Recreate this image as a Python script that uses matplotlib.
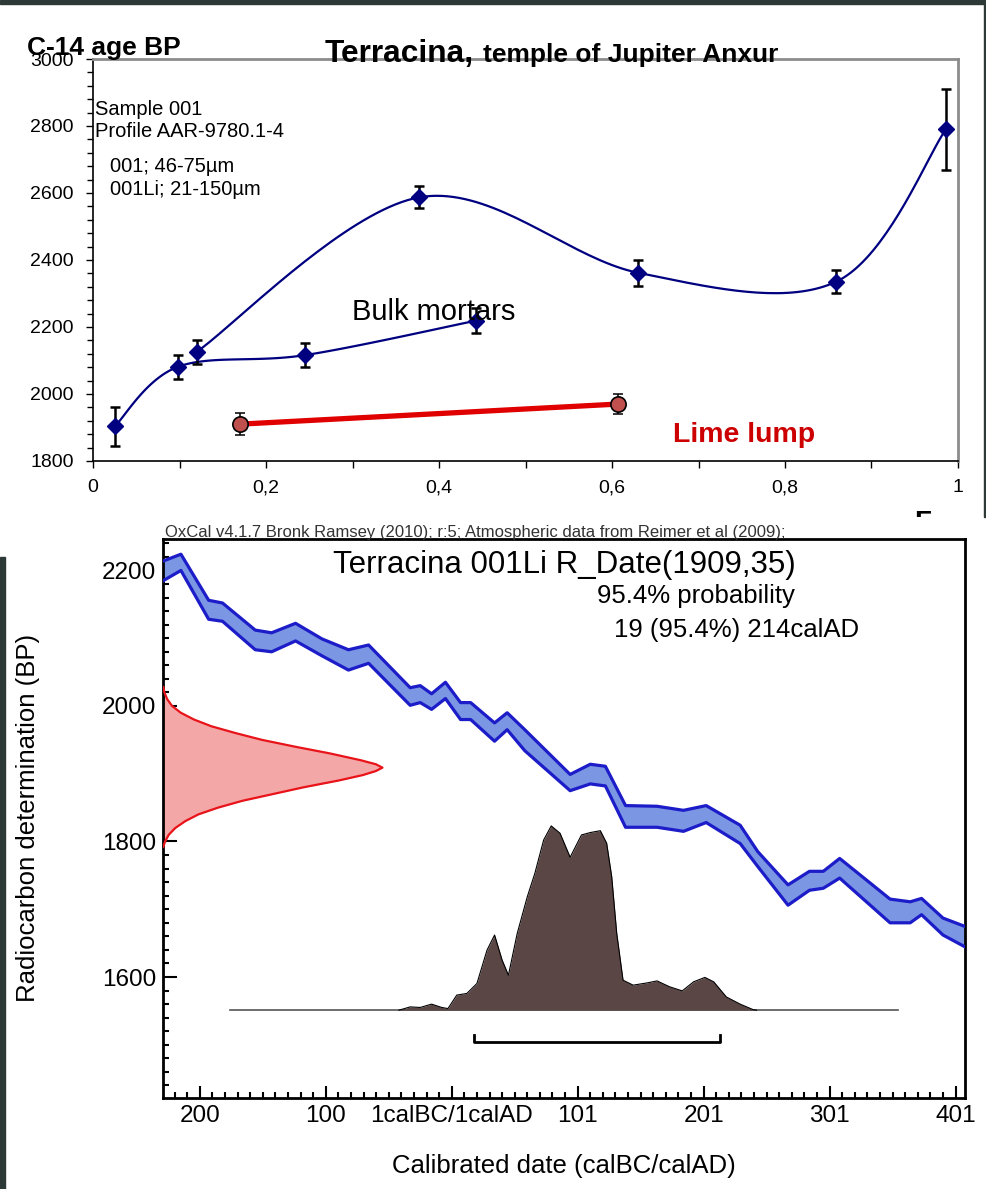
import numpy as np
import matplotlib.pyplot as plt
from matplotlib.patches import Rectangle
from matplotlib.ticker import MultipleLocator

plt.rcParams['font.family'] = ['Liberation Sans', 'DejaVu Sans']

# ---- top chart: C-14 age of mortar fractions vs F ----
low_f = [0.025, 0.098, 0.245, 0.443]
low_age = [1903, 2081, 2116, 2219]
low_err = [58, 35, 35, 37]

high_f = [0.120, 0.377, 0.630, 0.859, 0.986]
high_age = [2126, 2587, 2362, 2335, 2790]
high_err = [35, 33, 39, 34, 120]

lime_f = [0.170, 0.607]
lime_age = [1910, 1970]
lime_err = [33, 29]

f_ticks = [0, 0.2, 0.4, 0.6, 0.8, 1.0]
f_labels = ['0', '0,2', '0,4', '0,6', '0,8', '1']
age_ticks = [1800, 2000, 2200, 2400, 2600, 2800, 3000]

# ---- bottom chart: OxCal calibration ----
# x = calendar year, 0 = 1calBC/1calAD boundary
cal_x = [-229, -215, -193, -182, -156, -143, -124, -103, -82, -66, -33, -25, -16, -5,
         7, 15, 34, 44, 58, 94, 110, 122, 138, 163, 184, 202, 229, 243, 267, 284,
         295, 308, 348, 364, 373, 390, 407]
cal_hi = [2214, 2224, 2156, 2152, 2112, 2108, 2122, 2099, 2083, 2090, 2027, 2030, 2018, 2035,
          2005, 2005, 1975, 1990, 1965, 1899, 1914, 1911, 1853, 1852, 1846, 1853, 1824, 1785,
          1736, 1756, 1756, 1775, 1715, 1711, 1716, 1687, 1675]
cal_lo = [2185, 2200, 2128, 2125, 2083, 2080, 2096, 2074, 2053, 2063, 2001, 2005, 1995, 2011,
          1980, 1980, 1948, 1965, 1934, 1875, 1885, 1882, 1821, 1821, 1815, 1828, 1797, 1763,
          1706, 1728, 1731, 1746, 1680, 1680, 1692, 1662, 1645]

r_bp = [2028, 2020, 2010, 2000, 1990, 1980, 1970, 1960, 1950, 1940, 1930, 1920, 1914,
        1909, 1904, 1898, 1890, 1880, 1870, 1860, 1850, 1840, 1830, 1820, 1810, 1800, 1792]
r_w = [0.0, 0.005, 0.018, 0.04, 0.08, 0.14, 0.22, 0.33, 0.45, 0.60, 0.76, 0.90, 0.97,
       1.0, 0.97, 0.91, 0.80, 0.64, 0.50, 0.36, 0.25, 0.16, 0.10, 0.055, 0.025, 0.008, 0.0]

# calibrated probability
post_x = [-42, -33, -25, -16, -8, -3, 4, 12, 20, 28, 34, 40, 45, 52, 60, 66, 73, 79, 86,
          94, 103, 110, 118, 123, 127, 131, 136, 144, 155, 163, 173, 183, 192, 201, 208,
          218, 229, 239, 242]
post_p = [0, 0.018, 0.015, 0.033, 0.015, 0.009, 0.082, 0.091, 0.145, 0.326, 0.408, 0.272,
          0.19, 0.417, 0.616, 0.743, 0.924, 1.0, 0.96, 0.83, 0.951, 0.964, 0.974, 0.906,
          0.725, 0.417, 0.163, 0.136, 0.148, 0.159, 0.127, 0.105, 0.154, 0.178, 0.154,
          0.072, 0.033, 0.004, 0]
cal_span = [-176, 354]
range_954 = [18, 213]

year_ticks = [-200, -100, 0, 100, 200, 300, 400]
year_labels = ['200', '100', '1calBC/1calAD', '101', '201', '301', '401']

W, H = 987, 1189
dark = '#2c3936'


def box(x0, y0, x1, y1):
    # pixel box (origin top left) -> figure fraction
    return [x0 / W, 1 - y1 / H, (x1 - x0) / W, (y1 - y0) / H]


def ftext(x, y, s, **kw):
    kw.setdefault('va', 'baseline')
    return fig.text(x / W, 1 - y / H, s, **kw)


def smooth(xs, ys, sx, sy, n=40):
    '''smoothed line like Excel: bezier segments with catmull-rom handles'''
    p = np.column_stack([np.asarray(xs) * sx, np.asarray(ys) * sy])
    p = np.vstack([p[0], p, p[-1]])
    t = np.linspace(0, 1, n)[:, None]
    out = []
    for i in range(1, len(p) - 2):
        p0, p1, p2, p3 = p[i - 1], p[i], p[i + 1], p[i + 2]
        c1 = p1 + (p2 - p0) / 6
        c2 = p2 - (p3 - p1) / 6
        out.append((1 - t) ** 3 * p1 + 3 * (1 - t) ** 2 * t * c1
                   + 3 * (1 - t) * t ** 2 * c2 + t ** 3 * p2)
    out = np.vstack(out)
    return out[:, 0] / sx, out[:, 1] / sy


fig = plt.figure(figsize=(W / 100, H / 100), dpi=100)

# frame pieces of the pasted pictures
fig.patches.append(Rectangle((0, 1 - 4 / H), 1, 4 / H, transform=fig.transFigure,
                             color=dark, zorder=0))
fig.patches.append(Rectangle((984 / W, 1 - 517 / H), 3 / W, 517 / H,
                             transform=fig.transFigure, color=dark, zorder=0))
fig.patches.append(Rectangle((0, 0), 5 / W, 1 - 557 / H, transform=fig.transFigure,
                             color=dark, zorder=0))

# clipped letter at the edge of the top picture
bg = fig.add_axes(box(0, 0, 984, 517))
bg.axis('off')
bg.text(914 / 984, (517 - 510) / 517, 'F', transform=bg.transAxes, fontsize=20,
        fontweight='bold', va='top', ha='left', clip_on=True)

# ---------------- top chart ----------------
ax = fig.add_axes(box(93, 59, 958, 461))
ax.set_xlim(0, 1)
ax.set_ylim(1800, 3000)
sx, sy = 865.0, 402.0 / 1200

lx, ly = smooth(low_f, low_age, sx, sy)
ax.plot(lx, ly, color='#000080', lw=1.6, zorder=2)
hx, hy = smooth(high_f, high_age, sx, sy)
ax.plot(hx, hy, color='#000080', lw=1.6, zorder=2)

for f, a, e in [(low_f, low_age, low_err), (high_f, high_age, high_err)]:
    ax.errorbar(f, a, yerr=e, fmt='none', ecolor='black', elinewidth=1.8,
                capsize=3.5, capthick=1.8, zorder=3)
    ax.plot(f, a, 'D', color='#000080', ms=8, zorder=4)

ax.plot(lime_f, lime_age, color='#e00000', lw=3.8, zorder=2)
ax.errorbar(lime_f, lime_age, yerr=lime_err, fmt='none', ecolor='black',
            elinewidth=1.1, capsize=3.5, capthick=1.1, zorder=3)
ax.plot(lime_f, lime_age, 'o', ms=11, mfc='#c0504d', mec='black', mew=1.2, zorder=4)

ax.set_xticks(f_ticks)
ax.set_xticklabels(f_labels)
ax.xaxis.set_minor_locator(MultipleLocator(0.1))
ax.set_yticks(age_ticks)
ax.yaxis.set_minor_locator(MultipleLocator(40))
ax.tick_params(which='both', direction='out', width=1, labelsize=14)
ax.tick_params(axis='y', which='major', length=5, pad=9)
ax.tick_params(axis='y', which='minor', length=4)
ax.tick_params(axis='x', which='both', length=5, pad=8)
for s in ['top', 'right']:
    ax.spines[s].set_color('#8c8c8c')
    ax.spines[s].set_linewidth(2)
for s in ['left', 'bottom']:
    ax.spines[s].set_linewidth(1.2)

ftext(27, 55, 'C-14 age BP', fontsize=19, fontweight='bold')
ftext(325, 62, 'Terracina,', fontsize=22.8, fontweight='bold')
ftext(483, 62, 'temple of Jupiter Anxur', fontsize=19, fontweight='bold')
ftext(95, 115, 'Sample 001', fontsize=14.5)
ftext(95, 137, 'Profile AAR-9780.1-4', fontsize=14.5)
ftext(110, 172, '001; 46-75µm', fontsize=14.5)
ftext(110, 195, '001Li; 21-150µm', fontsize=14.5)
ftext(352, 320, 'Bulk mortars', fontsize=21)
ftext(673, 442, 'Lime lump', fontsize=20.5, fontweight='bold', color='#cc0000')

# ---------------- bottom chart (OxCal) ----------------
bx = fig.add_axes(box(163.3, 539.3, 965, 1098.3))
x0 = -229
bx.set_xlim(x0, 407.5)
bx.set_ylim(1421, 2246)

bx.fill_between(cal_x, cal_lo, cal_hi, color='#7b96e3', lw=0, zorder=2)
bx.plot(cal_x, cal_hi, color='#1c1cc8', lw=2.3, solid_joinstyle='round', zorder=3)
bx.plot(cal_x, cal_lo, color='#1c1cc8', lw=2.3, solid_joinstyle='round', zorder=3)

rx = x0 + np.array(r_w) * 174
bx.fill_betweenx(r_bp, x0, rx, color='#f4a7a7', lw=0, zorder=2)
bx.plot(rx, r_bp, color='#e8141a', lw=1.6, zorder=3)

base = 1551
py = base + np.array(post_p) * 272
bx.plot(cal_span, [base, base], color='#555555', lw=1.2, zorder=2)
bx.fill_between(post_x, base, py, color='#5b4646', lw=0, zorder=3)
bx.plot(post_x, py, color='black', lw=0.8, zorder=4)

bx.plot([range_954[0], range_954[0], range_954[1], range_954[1]],
        [1514, 1504, 1504, 1514], color='black', lw=2, zorder=4)

bx.set_xticks(year_ticks)
bx.set_xticklabels(year_labels)
bx.xaxis.set_minor_locator(MultipleLocator(10))
bx.set_yticks([1600, 1800, 2000, 2200])
bx.yaxis.set_minor_locator(MultipleLocator(20))
bx.tick_params(which='both', direction='in', width=1.5, labelsize=17.5, pad=5,
               top=False, right=False)
bx.tick_params(axis='y', which='major', length=10)
bx.tick_params(axis='y', which='minor', length=4.5)
bx.tick_params(axis='x', which='major', length=9)
bx.tick_params(axis='x', which='minor', length=4.5)
for s in bx.spines.values():
    s.set_linewidth(2)

ftext(165, 537, 'OxCal v4.1.7 Bronk Ramsey (2010); r:5; Atmospheric data from Reimer et al (2009);',
      fontsize=12, color='#333333')
ftext(333, 573, 'Terracina 001Li R_Date(1909,35)', fontsize=22.5)
ftext(597, 603, '95.4% probability', fontsize=18.5)
ftext(614, 637, '19 (95.4%) 214calAD', fontsize=18.5)
ftext(28, 818, 'Radiocarbon determination (BP)', fontsize=18.5, rotation=90,
      ha='center', va='center')
ftext(564, 1166, 'Calibrated date (calBC/calAD)', fontsize=18.5, ha='center', va='center')

fig.savefig('out.png', dpi=100)
